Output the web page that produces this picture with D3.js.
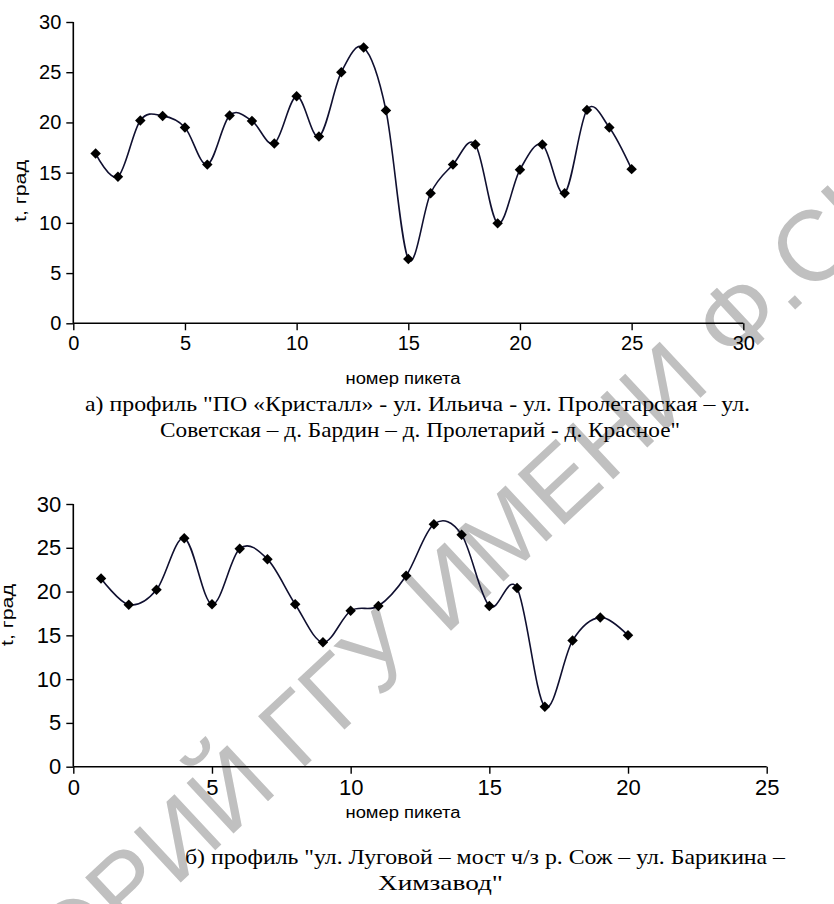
<!DOCTYPE html>
<html>
<head>
<meta charset="utf-8">
<script src="https://cdn.jsdelivr.net/npm/d3@7"></script>
<style>
  body { margin: 0; background: #fff; }
  svg { display: block; }
  .tick text { font-family: "Liberation Sans", Arial, sans-serif; fill: #000; }
  .title { font-family: "Liberation Serif", "Times New Roman", serif; fill: #000; }
</style>
</head>
<body>
<div id="chart"></div>
<script>
// --- data ---
const pickets1 = [1, 2, 3, 4, 5, 6, 7, 8, 9, 10, 11, 12, 13, 14, 15, 16, 17, 18, 19, 20, 21, 22, 23, 24, 25];
const temps1 = [16.9, 14.6, 20.2, 20.65, 19.5, 15.8, 20.7, 20.15, 17.9, 22.6, 18.6, 25.0, 27.45, 21.2, 6.4,
                12.95, 15.8, 17.8, 9.95, 15.3, 17.8, 12.95, 21.25, 19.5, 15.35];

const pickets2 = [1, 2, 3, 4, 5, 6, 7, 8, 9, 10, 11, 12, 13, 14, 15, 16, 17, 18, 19, 20];
const temps2 = [21.5, 18.5, 20.2, 26.1, 18.55, 24.9, 23.7, 18.55, 14.2, 17.8, 18.35, 21.8, 27.7, 26.5, 18.35,
                20.4, 6.85, 14.4, 17.05, 15.0];

const yTicks = [0, 5, 10, 15, 20, 25, 30];
const xTicks1 = [0, 5, 10, 15, 20, 25, 30];
const xTicks2 = [0, 5, 10, 15, 20, 25];

const yLabel = "t, град";
const xLabel = "номер пикета";
const caption1 = ["а) профиль \"ПО «Кристалл» - ул. Ильича - ул. Пролетарская – ул.",
                  "Советская – д. Бардин – д. Пролетарий - д. Красное\""];
const caption2 = ["б) профиль \"ул.  Луговой – мост ч/з р. Сож – ул.  Барикина –",
                  "Химзавод\""];
const watermarkLeft = "РЕПОЗИТОРИЙ";
const watermarkRight = "ГГУ ИМЕНИ Ф.СКОРИНЫ";

const width = 834, height = 904;

const svg = d3.select('#chart')
    .append('svg')
    .attr('width', width)
    .attr('height', height);

// watermark, under everything
const wm = svg.append('g')
    .attr('transform', 'translate(280,790) rotate(-43)')
    .style('font-family', '"Liberation Sans", Arial, sans-serif')
    .style('font-size', '100px')
    .attr('fill', '#c0c0c0');
wm.append('text').attr('text-anchor', 'end').text(watermarkLeft);
wm.append('text').attr('x', 26).text(watermarkRight);

function drawProfile(cfg){
    const g = svg.append('g');

    const x = d3.scaleLinear(cfg.xDomain, [cfg.left, cfg.right]);
    const y = d3.scaleLinear([0, 30], [cfg.bottom, cfg.top]);

    const axisX = g.append('g')
        .attr('transform', `translate(0,${cfg.bottom})`)
        .call(d3.axisBottom(x).tickValues(cfg.xTicks).tickSize(7).tickPadding(6).tickFormat(d3.format('d')));
    const axisY = g.append('g')
        .attr('transform', `translate(${cfg.left},0)`)
        .call(d3.axisLeft(y).tickValues(yTicks).tickSize(7).tickPadding(5).tickFormat(d3.format('d')));

    [axisX, axisY].forEach(a => {
        a.select('.domain').attr('stroke', '#000').attr('stroke-width', 1.6);
        a.selectAll('.tick line').attr('stroke', '#000').attr('stroke-width', 1.4);
        a.selectAll('.tick text').style('font-size', cfg.tickFont + 'px');
    });
    // Excel style axis: domain without outer ticks
    axisX.select('.domain').attr('d', `M${cfg.left},0H${cfg.right}`);
    axisY.select('.domain').attr('d', `M0,${cfg.bottom}V${cfg.top}`);

    const points = cfg.pickets.map((p, i) => [p, cfg.temps[i]]);

    const line = d3.line()
        .curve(d3.curveCatmullRom.alpha(0))
        .x(d => x(d[0]))
        .y(d => y(d[1]));

    g.append('path')
        .datum(points)
        .attr('d', line)
        .attr('fill', 'none')
        .attr('stroke', '#101030')
        .attr('stroke-width', 1.6);

    const diamond = d3.symbol().type(d3.symbolDiamond2).size(70);
    g.selectAll('path.marker')
        .data(points)
        .join('path')
        .attr('class', 'marker')
        .attr('d', diamond)
        .attr('transform', d => `translate(${x(d[0])},${y(d[1])})`)
        .attr('fill', '#000');

    g.append('text')
        .attr('transform', `translate(${cfg.yLabelX},${cfg.yLabelY}) rotate(-90)`)
        .attr('text-anchor', 'middle')
        .attr('textLength', 62)
        .attr('lengthAdjust', 'spacingAndGlyphs')
        .style('font-family', '"Liberation Sans", Arial, sans-serif')
        .style('font-size', '16px')
        .text(yLabel);

    g.append('text')
        .attr('x', cfg.xLabelX)
        .attr('y', cfg.xLabelY)
        .attr('text-anchor', 'middle')
        .attr('textLength', 115)
        .attr('lengthAdjust', 'spacingAndGlyphs')
        .style('font-family', '"Liberation Sans Narrow", "Liberation Sans", Arial, sans-serif')
        .style('font-size', '16px')
        .text(xLabel);

    // caption lines: left edge and stretched width per line
    g.selectAll('text.title')
        .data(cfg.caption)
        .join('text')
        .attr('class', 'title')
        .attr('x', (d, i) => cfg.captionX[i])
        .attr('y', (d, i) => cfg.captionY + i * 26)
        .attr('textLength', (d, i) => cfg.captionW[i])
        .attr('lengthAdjust', 'spacingAndGlyphs')
        .style('font-size', '21px')
        .text(d => d);
}

drawProfile({
    pickets: pickets1, temps: temps1, xDomain: [0, 30], xTicks: xTicks1,
    left: 73.3, right: 743.3, top: 22, bottom: 323.3, tickFont: 20,
    yLabelX: 26, yLabelY: 191, xLabelX: 403, xLabelY: 384,
    caption: caption1, captionX: [85, 160], captionW: [665, 520], captionY: 411
});

drawProfile({
    pickets: pickets2, temps: temps2, xDomain: [0, 25], xTicks: xTicks2,
    left: 73.3, right: 766.7, top: 504, bottom: 766.7, tickFont: 22,
    yLabelX: 13, yLabelY: 615, xLabelX: 403, xLabelY: 818,
    caption: caption2, captionX: [185, 378], captionW: [600, 125], captionY: 864
});
</script>
</body>
</html>
